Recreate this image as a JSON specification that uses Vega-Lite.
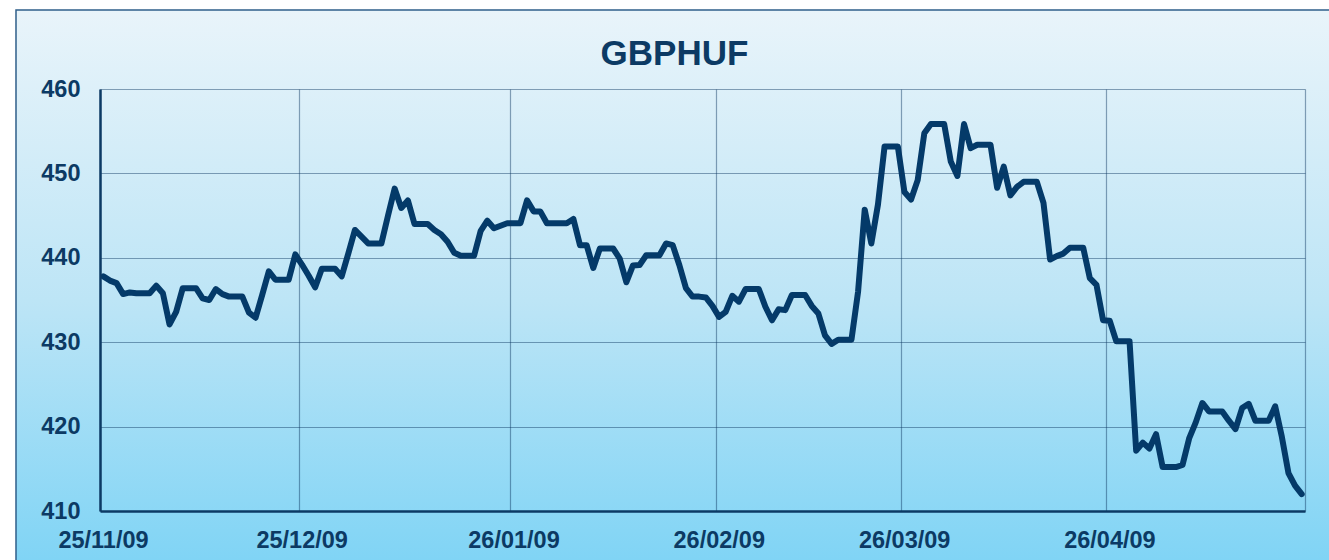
{
  "$schema": "https://vega.github.io/schema/vega-lite/v6.json",
  "width": 1205,
  "height": 422,
  "autosize": {"type": "none"},
  "padding": {"left": 100, "top": 89, "right": 24, "bottom": 49},
  "background": "white",
  "title": {
    "text": "GBPHUF",
    "font": "Liberation Sans",
    "fontSize": 35,
    "fontWeight": "bold",
    "color": "#0c3a64",
    "anchor": "middle",
    "dx": -28,
    "offset": -91,
    "baseline": "alphabetic",
    "zindex": 1
  },
  "config": {
    "view": {"stroke": null},
    "axis": {
      "zindex": 1,
      "ticks": false,
      "labelFont": "Liberation Sans",
      "labelFontSize": 23.5,
      "labelFontWeight": "bold",
      "labelColor": "#0c3a64",
      "domainColor": "#0c3a64",
      "domainWidth": 2.5,
      "grid": true,
      "gridColor": "#0a3560",
      "gridOpacity": 0.45,
      "gridWidth": 1.2,
      "title": null
    }
  },
  "layer": [
    {
      "data": {"values": [{}]},
      "mark": {
        "type": "rect",
        "fill": {
          "gradient": "linear",
          "x1": 0, "y1": 0, "x2": 0, "y2": 1,
          "stops": [
            {"offset": 0, "color": "#e9f4fa"},
            {"offset": 0.495, "color": "#bde5f6"},
            {"offset": 0.94, "color": "#80d4f5"},
            {"offset": 1, "color": "#7bd2f5"}
          ]
        },
        "stroke": "#2f5f8a",
        "strokeWidth": 1.5
      },
      "encoding": {
        "x": {
          "datum": {"year": 2009, "month": 11, "date": 12, "hours": 7, "minutes": 30},
          "type": "temporal",
          "scale": {"domain": [{"year": 2009, "month": 11, "date": 25}, {"year": 2010, "month": 5, "date": 26}]}
        },
        "x2": {"datum": {"year": 2010, "month": 6, "date": 10}},
        "y": {
          "datum": 469.36,
          "type": "quantitative",
          "scale": {"domain": [410, 460], "zero": false, "nice": false}
        },
        "y2": {"datum": 400}
      }
    },
    {
      "data": {
        "values": [
          {"date": "2009-11-25T12:00", "rate": 437.8},
          {"date": "2009-11-26T12:00", "rate": 437.3},
          {"date": "2009-11-27T12:00", "rate": 437.0},
          {"date": "2009-11-28T12:00", "rate": 435.7},
          {"date": "2009-11-29T12:00", "rate": 435.9},
          {"date": "2009-11-30T12:00", "rate": 435.8},
          {"date": "2009-12-01T12:00", "rate": 435.8},
          {"date": "2009-12-02T12:00", "rate": 435.8},
          {"date": "2009-12-03T12:00", "rate": 436.7},
          {"date": "2009-12-04T12:00", "rate": 435.8},
          {"date": "2009-12-05T12:00", "rate": 432.1},
          {"date": "2009-12-06T12:00", "rate": 433.6},
          {"date": "2009-12-07T12:00", "rate": 436.4},
          {"date": "2009-12-08T12:00", "rate": 436.4},
          {"date": "2009-12-09T12:00", "rate": 436.4},
          {"date": "2009-12-10T12:00", "rate": 435.2},
          {"date": "2009-12-11T12:00", "rate": 435.0},
          {"date": "2009-12-12T12:00", "rate": 436.3},
          {"date": "2009-12-13T12:00", "rate": 435.7},
          {"date": "2009-12-14T12:00", "rate": 435.4},
          {"date": "2009-12-15T12:00", "rate": 435.4},
          {"date": "2009-12-16T12:00", "rate": 435.4},
          {"date": "2009-12-17T12:00", "rate": 433.5},
          {"date": "2009-12-18T12:00", "rate": 432.9},
          {"date": "2009-12-19T12:00", "rate": 435.6},
          {"date": "2009-12-20T12:00", "rate": 438.4},
          {"date": "2009-12-21T12:00", "rate": 437.4},
          {"date": "2009-12-22T12:00", "rate": 437.4},
          {"date": "2009-12-23T12:00", "rate": 437.4},
          {"date": "2009-12-24T12:00", "rate": 440.4},
          {"date": "2009-12-25T12:00", "rate": 439.2},
          {"date": "2009-12-26T12:00", "rate": 437.9},
          {"date": "2009-12-27T12:00", "rate": 436.5},
          {"date": "2009-12-28T12:00", "rate": 438.7},
          {"date": "2009-12-29T12:00", "rate": 438.7},
          {"date": "2009-12-30T12:00", "rate": 438.7},
          {"date": "2009-12-31T12:00", "rate": 437.8},
          {"date": "2010-01-01T12:00", "rate": 440.5},
          {"date": "2010-01-02T12:00", "rate": 443.3},
          {"date": "2010-01-03T12:00", "rate": 442.5},
          {"date": "2010-01-04T12:00", "rate": 441.7},
          {"date": "2010-01-05T12:00", "rate": 441.7},
          {"date": "2010-01-06T12:00", "rate": 441.7},
          {"date": "2010-01-07T12:00", "rate": 445.0},
          {"date": "2010-01-08T12:00", "rate": 448.2},
          {"date": "2010-01-09T12:00", "rate": 445.9},
          {"date": "2010-01-10T12:00", "rate": 446.8},
          {"date": "2010-01-11T12:00", "rate": 444.0},
          {"date": "2010-01-12T12:00", "rate": 444.0},
          {"date": "2010-01-13T12:00", "rate": 444.0},
          {"date": "2010-01-14T12:00", "rate": 443.3},
          {"date": "2010-01-15T12:00", "rate": 442.8},
          {"date": "2010-01-16T12:00", "rate": 441.9},
          {"date": "2010-01-17T12:00", "rate": 440.6},
          {"date": "2010-01-18T12:00", "rate": 440.25},
          {"date": "2010-01-19T12:00", "rate": 440.25},
          {"date": "2010-01-20T12:00", "rate": 440.25},
          {"date": "2010-01-21T12:00", "rate": 443.2},
          {"date": "2010-01-22T12:00", "rate": 444.4},
          {"date": "2010-01-23T12:00", "rate": 443.5},
          {"date": "2010-01-24T12:00", "rate": 443.8},
          {"date": "2010-01-25T12:00", "rate": 444.1},
          {"date": "2010-01-26T12:00", "rate": 444.1},
          {"date": "2010-01-27T12:00", "rate": 444.1},
          {"date": "2010-01-28T12:00", "rate": 446.8},
          {"date": "2010-01-29T12:00", "rate": 445.5},
          {"date": "2010-01-30T12:00", "rate": 445.5},
          {"date": "2010-01-31T12:00", "rate": 444.1},
          {"date": "2010-02-01T12:00", "rate": 444.1},
          {"date": "2010-02-02T12:00", "rate": 444.1},
          {"date": "2010-02-03T12:00", "rate": 444.1},
          {"date": "2010-02-04T12:00", "rate": 444.6},
          {"date": "2010-02-05T12:00", "rate": 441.5},
          {"date": "2010-02-06T12:00", "rate": 441.5},
          {"date": "2010-02-07T12:00", "rate": 438.8},
          {"date": "2010-02-08T12:00", "rate": 441.1},
          {"date": "2010-02-09T12:00", "rate": 441.1},
          {"date": "2010-02-10T12:00", "rate": 441.1},
          {"date": "2010-02-11T12:00", "rate": 439.9},
          {"date": "2010-02-12T12:00", "rate": 437.1},
          {"date": "2010-02-13T12:00", "rate": 439.1},
          {"date": "2010-02-14T12:00", "rate": 439.15},
          {"date": "2010-02-15T12:00", "rate": 440.3},
          {"date": "2010-02-16T12:00", "rate": 440.3},
          {"date": "2010-02-17T12:00", "rate": 440.3},
          {"date": "2010-02-18T12:00", "rate": 441.7},
          {"date": "2010-02-19T12:00", "rate": 441.5},
          {"date": "2010-02-20T12:00", "rate": 439.15},
          {"date": "2010-02-21T12:00", "rate": 436.4},
          {"date": "2010-02-22T12:00", "rate": 435.4},
          {"date": "2010-02-23T12:00", "rate": 435.4},
          {"date": "2010-02-24T12:00", "rate": 435.3},
          {"date": "2010-02-25T12:00", "rate": 434.3},
          {"date": "2010-02-26T12:00", "rate": 433.0},
          {"date": "2010-02-27T12:00", "rate": 433.6},
          {"date": "2010-02-28T12:00", "rate": 435.5},
          {"date": "2010-03-01T12:00", "rate": 434.8},
          {"date": "2010-03-02T12:00", "rate": 436.3},
          {"date": "2010-03-03T12:00", "rate": 436.3},
          {"date": "2010-03-04T12:00", "rate": 436.3},
          {"date": "2010-03-05T12:00", "rate": 434.2},
          {"date": "2010-03-06T12:00", "rate": 432.6},
          {"date": "2010-03-07T12:00", "rate": 433.9},
          {"date": "2010-03-08T12:00", "rate": 433.8},
          {"date": "2010-03-09T12:00", "rate": 435.6},
          {"date": "2010-03-10T12:00", "rate": 435.6},
          {"date": "2010-03-11T12:00", "rate": 435.6},
          {"date": "2010-03-12T12:00", "rate": 434.3},
          {"date": "2010-03-13T12:00", "rate": 433.4},
          {"date": "2010-03-14T12:00", "rate": 430.8},
          {"date": "2010-03-15T12:00", "rate": 429.8},
          {"date": "2010-03-16T12:00", "rate": 430.3},
          {"date": "2010-03-17T12:00", "rate": 430.3},
          {"date": "2010-03-18T12:00", "rate": 430.3},
          {"date": "2010-03-19T12:00", "rate": 436.0},
          {"date": "2010-03-20T12:00", "rate": 445.7},
          {"date": "2010-03-21T12:00", "rate": 441.7},
          {"date": "2010-03-22T12:00", "rate": 446.3},
          {"date": "2010-03-23T12:00", "rate": 453.2},
          {"date": "2010-03-24T12:00", "rate": 453.2},
          {"date": "2010-03-25T12:00", "rate": 453.2},
          {"date": "2010-03-26T12:00", "rate": 447.8},
          {"date": "2010-03-27T12:00", "rate": 446.9},
          {"date": "2010-03-28T12:00", "rate": 449.2},
          {"date": "2010-03-29T12:00", "rate": 454.75},
          {"date": "2010-03-30T12:00", "rate": 455.85},
          {"date": "2010-03-31T12:00", "rate": 455.85},
          {"date": "2010-04-01T12:00", "rate": 455.85},
          {"date": "2010-04-02T12:00", "rate": 451.4},
          {"date": "2010-04-03T12:00", "rate": 449.7},
          {"date": "2010-04-04T12:00", "rate": 455.85},
          {"date": "2010-04-05T12:00", "rate": 453.0},
          {"date": "2010-04-06T12:00", "rate": 453.4},
          {"date": "2010-04-07T12:00", "rate": 453.4},
          {"date": "2010-04-08T12:00", "rate": 453.4},
          {"date": "2010-04-09T12:00", "rate": 448.3},
          {"date": "2010-04-10T12:00", "rate": 450.8},
          {"date": "2010-04-11T12:00", "rate": 447.4},
          {"date": "2010-04-12T12:00", "rate": 448.4},
          {"date": "2010-04-13T12:00", "rate": 449.0},
          {"date": "2010-04-14T12:00", "rate": 449.0},
          {"date": "2010-04-15T12:00", "rate": 449.0},
          {"date": "2010-04-16T12:00", "rate": 446.5},
          {"date": "2010-04-17T12:00", "rate": 439.8},
          {"date": "2010-04-18T12:00", "rate": 440.2},
          {"date": "2010-04-19T12:00", "rate": 440.5},
          {"date": "2010-04-20T12:00", "rate": 441.2},
          {"date": "2010-04-21T12:00", "rate": 441.2},
          {"date": "2010-04-22T12:00", "rate": 441.2},
          {"date": "2010-04-23T12:00", "rate": 437.6},
          {"date": "2010-04-24T12:00", "rate": 436.8},
          {"date": "2010-04-25T12:00", "rate": 432.6},
          {"date": "2010-04-26T12:00", "rate": 432.55},
          {"date": "2010-04-27T12:00", "rate": 430.1},
          {"date": "2010-04-28T12:00", "rate": 430.1},
          {"date": "2010-04-29T12:00", "rate": 430.1},
          {"date": "2010-04-30T12:00", "rate": 417.15},
          {"date": "2010-05-01T12:00", "rate": 418.1},
          {"date": "2010-05-02T12:00", "rate": 417.4},
          {"date": "2010-05-03T12:00", "rate": 419.1},
          {"date": "2010-05-04T12:00", "rate": 415.2},
          {"date": "2010-05-05T12:00", "rate": 415.2},
          {"date": "2010-05-06T12:00", "rate": 415.2},
          {"date": "2010-05-07T12:00", "rate": 415.45},
          {"date": "2010-05-08T12:00", "rate": 418.6},
          {"date": "2010-05-09T12:00", "rate": 420.5},
          {"date": "2010-05-10T12:00", "rate": 422.8},
          {"date": "2010-05-11T12:00", "rate": 421.8},
          {"date": "2010-05-12T12:00", "rate": 421.8},
          {"date": "2010-05-13T12:00", "rate": 421.8},
          {"date": "2010-05-14T12:00", "rate": 420.7},
          {"date": "2010-05-15T12:00", "rate": 419.7},
          {"date": "2010-05-16T12:00", "rate": 422.2},
          {"date": "2010-05-17T12:00", "rate": 422.7},
          {"date": "2010-05-18T12:00", "rate": 420.7},
          {"date": "2010-05-19T12:00", "rate": 420.7},
          {"date": "2010-05-20T12:00", "rate": 420.7},
          {"date": "2010-05-21T12:00", "rate": 422.4},
          {"date": "2010-05-22T12:00", "rate": 418.8},
          {"date": "2010-05-23T12:00", "rate": 414.5},
          {"date": "2010-05-24T12:00", "rate": 413.0},
          {"date": "2010-05-25T12:00", "rate": 412.0}
        ]
      },
      "mark": {
        "type": "line",
        "color": "#043a69",
        "strokeWidth": 6,
        "strokeJoin": "round",
        "strokeCap": "round"
      },
      "encoding": {
        "x": {
          "field": "date",
          "type": "temporal",
          "scale": {"domain": [{"year": 2009, "month": 11, "date": 25}, {"year": 2010, "month": 5, "date": 26}]},
          "axis": {
            "zindex": 1,
            "grid": true,
            "values": [
              {"year": 2009, "month": 11, "date": 25},
              {"year": 2009, "month": 12, "date": 25},
              {"year": 2010, "month": 1, "date": 26},
              {"year": 2010, "month": 2, "date": 26},
              {"year": 2010, "month": 3, "date": 26},
              {"year": 2010, "month": 4, "date": 26},
              {"year": 2010, "month": 5, "date": 26}
            ],
            "format": "%d/%m/09",
            "labelExpr": "datum.value > 1273500000000 ? '' : datum.label",
            "labelPadding": 17,
            "labelOffset": 3,
            "labelBaseline": "top",
            "labelFlush": false,
            "labelOverlap": false,
            "title": null
          }
        },
        "y": {
          "field": "rate",
          "type": "quantitative",
          "scale": {"domain": [410, 460], "zero": false, "nice": false},
          "axis": {
            "zindex": 1,
            "grid": true,
            "values": [410, 420, 430, 440, 450, 460],
            "labelPadding": 20,
            "labelBaseline": "middle",
            "labelFlush": false,
            "labelOverlap": false,
            "title": null
          }
        }
      }
    }
  ]
}
